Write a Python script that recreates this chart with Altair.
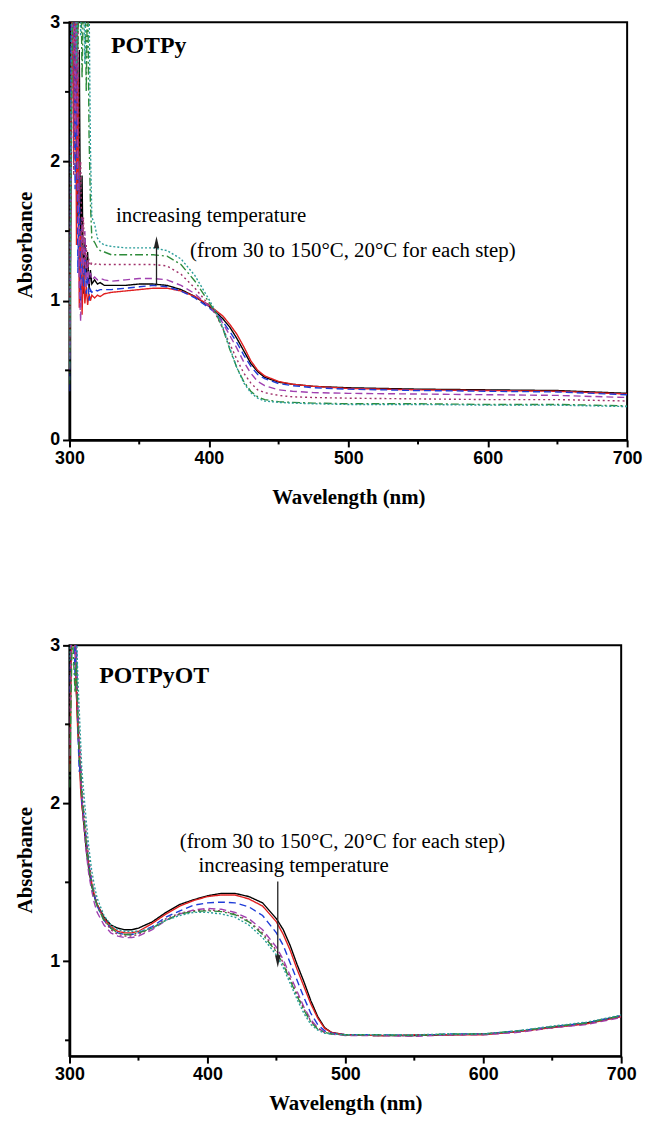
import altair as alt
import pandas as pd

# ---------------- data: top panel (POTPy) ----------------
W_TOP = [300, 301, 302, 303, 304, 305, 306, 307, 308, 309, 310, 311, 312, 313, 314, 315, 316,
         318, 320, 322, 325, 330, 340, 350, 360, 370, 380, 390, 400, 405, 410, 415, 420, 425,
         430, 435, 440, 450, 460, 475, 500, 550, 600, 650, 700]

TOP_30 = [0.45, 1.8, 3.5, 3.6, 2.4, 3.3, 1.6, 2.8, 1.3, 1.9, 1.05, 1.45, 1.15, 1.35, 1.08, 1.22, 1.12,
          1.15, 1.12, 1.13, 1.11, 1.11, 1.11, 1.12, 1.12, 1.11, 1.08, 1.03, 0.96, 0.92, 0.87, 0.81, 0.73, 0.64,
          0.55, 0.49, 0.45, 0.415, 0.40, 0.385, 0.375, 0.365, 0.36, 0.355, 0.335]
TOP_50 = [0.6, 2.2, 3.4, 2.0, 3.5, 1.4, 2.6, 0.95, 1.5, 0.9, 1.25, 0.98, 1.1, 0.97, 1.05, 1.0, 1.04,
          1.02, 1.04, 1.03, 1.05, 1.06, 1.07, 1.08, 1.09, 1.09, 1.07, 1.03, 0.97, 0.93, 0.89, 0.83, 0.76, 0.67,
          0.57, 0.50, 0.46, 0.42, 0.40, 0.385, 0.37, 0.36, 0.355, 0.35, 0.33]
TOP_70 = [0.35, 2.8, 3.6, 3.2, 1.8, 2.9, 1.2, 1.9, 1.0, 1.3, 1.1, 1.4, 1.05, 1.18, 1.0, 1.08, 1.06,
          1.08, 1.07, 1.08, 1.08, 1.08, 1.09, 1.10, 1.11, 1.10, 1.07, 1.02, 0.95, 0.91, 0.85, 0.78, 0.70, 0.61,
          0.53, 0.47, 0.44, 0.405, 0.39, 0.375, 0.365, 0.355, 0.35, 0.345, 0.325]
TOP_90 = [0.5, 1.6, 3.3, 3.5, 2.2, 3.4, 1.9, 1.1, 0.85, 1.6, 1.2, 1.5, 1.1, 1.3, 1.12, 1.2, 1.15,
          1.17, 1.15, 1.16, 1.15, 1.14, 1.15, 1.16, 1.16, 1.15, 1.11, 1.05, 0.96, 0.91, 0.84, 0.75, 0.66, 0.56,
          0.48, 0.42, 0.39, 0.36, 0.35, 0.34, 0.335, 0.33, 0.325, 0.32, 0.305]
TOP_110 = [0.7, 2.5, 3.4, 1.9, 3.6, 2.3, 3.2, 1.7, 2.0, 1.3, 1.6, 1.25, 1.4, 1.22, 1.3, 1.25, 1.27,
           1.26, 1.27, 1.26, 1.26, 1.26, 1.26, 1.26, 1.26, 1.25, 1.19, 1.09, 0.97, 0.90, 0.80, 0.69, 0.58, 0.48,
           0.41, 0.36, 0.34, 0.32, 0.31, 0.305, 0.30, 0.295, 0.29, 0.29, 0.28]
TOP_130 = [0.4, 1.9, 2.9, 3.5, 3.3, 3.6, 2.8, 3.4, 3.5, 2.6, 3.2, 3.4, 2.5, 3.3, 2.2, 1.7, 1.45,
           1.42, 1.38, 1.36, 1.35, 1.33, 1.33, 1.33, 1.33, 1.32, 1.26, 1.14, 0.99, 0.91, 0.80, 0.65, 0.52, 0.42,
           0.35, 0.31, 0.29, 0.275, 0.27, 0.265, 0.26, 0.26, 0.255, 0.255, 0.245]
TOP_150 = [0.55, 2.4, 3.6, 3.1, 3.5, 2.7, 3.4, 3.5, 2.9, 3.6, 3.3, 2.7, 3.5, 3.4, 3.2, 2.1, 1.6,
           1.55, 1.45, 1.42, 1.40, 1.39, 1.38, 1.38, 1.38, 1.36, 1.30, 1.18, 1.01, 0.92, 0.81, 0.66, 0.52, 0.41,
           0.34, 0.30, 0.28, 0.27, 0.265, 0.26, 0.255, 0.255, 0.25, 0.25, 0.24]

# ---------------- data: bottom panel (POTPyOT) ----------------
W_BOT = [300, 302, 304, 305, 306, 307, 308, 309, 310, 312, 314, 316, 318, 320, 325, 330, 335, 340,
         345, 350, 360, 370, 380, 390, 400, 410, 420, 430, 440, 450, 455, 460, 465, 470, 475, 480,
         485, 490, 500, 525, 550, 575, 600, 625, 650, 675, 700]

BOT_30 = [2.5, 3.4, 3.1, 2.7, 2.5, 2.3, 2.15, 2.0, 1.9, 1.72, 1.58, 1.48, 1.41, 1.36, 1.28, 1.23, 1.21, 1.20,
          1.20, 1.21, 1.25, 1.31, 1.36, 1.39, 1.415, 1.43, 1.43, 1.41, 1.37, 1.27, 1.20, 1.10, 0.98, 0.87, 0.75, 0.65,
          0.58, 0.55, 0.535, 0.53, 0.53, 0.535, 0.54, 0.555, 0.585, 0.61, 0.655]
BOT_50 = [2.2, 3.3, 3.0, 2.7, 2.45, 2.35, 2.1, 1.98, 1.92, 1.75, 1.6, 1.5, 1.42, 1.36, 1.27, 1.22, 1.19, 1.18,
          1.18, 1.19, 1.24, 1.30, 1.35, 1.385, 1.41, 1.42, 1.42, 1.395, 1.35, 1.25, 1.17, 1.07, 0.95, 0.84, 0.73, 0.64,
          0.575, 0.55, 0.535, 0.53, 0.535, 0.535, 0.535, 0.555, 0.58, 0.605, 0.65]
BOT_70 = [2.7, 3.5, 2.8, 3.1, 2.5, 2.2, 2.25, 2.0, 1.95, 1.78, 1.62, 1.5, 1.42, 1.35, 1.26, 1.21, 1.18, 1.17,
          1.17, 1.18, 1.22, 1.28, 1.32, 1.355, 1.37, 1.375, 1.37, 1.345, 1.29, 1.18, 1.10, 0.99, 0.88, 0.77, 0.67, 0.60,
          0.56, 0.545, 0.535, 0.535, 0.53, 0.54, 0.54, 0.56, 0.585, 0.61, 0.655]
BOT_90 = [2.3, 3.6, 3.0, 2.8, 2.6, 2.4, 2.2, 2.05, 1.9, 1.7, 1.55, 1.45, 1.37, 1.31, 1.23, 1.18, 1.16, 1.15,
          1.15, 1.16, 1.20, 1.26, 1.30, 1.325, 1.335, 1.33, 1.31, 1.27, 1.20, 1.09, 1.01, 0.91, 0.81, 0.71, 0.63, 0.58,
          0.55, 0.54, 0.53, 0.53, 0.525, 0.535, 0.535, 0.55, 0.58, 0.60, 0.645]
BOT_110 = [2.6, 3.5, 3.2, 2.9, 2.6, 2.45, 2.3, 2.1, 2.0, 1.82, 1.65, 1.52, 1.43, 1.36, 1.26, 1.20, 1.17, 1.16,
           1.16, 1.17, 1.21, 1.27, 1.305, 1.32, 1.325, 1.32, 1.30, 1.255, 1.18, 1.07, 0.99, 0.89, 0.79, 0.70, 0.62, 0.575,
           0.55, 0.54, 0.535, 0.53, 0.53, 0.535, 0.54, 0.555, 0.58, 0.605, 0.65]
BOT_130 = [2.1, 3.1, 2.7, 2.9, 2.55, 2.3, 2.2, 2.05, 1.95, 1.76, 1.6, 1.49, 1.41, 1.35, 1.26, 1.21, 1.18, 1.17,
           1.17, 1.18, 1.21, 1.26, 1.30, 1.315, 1.32, 1.315, 1.295, 1.25, 1.17, 1.06, 0.98, 0.88, 0.78, 0.69, 0.615, 0.57,
           0.55, 0.54, 0.535, 0.535, 0.53, 0.54, 0.54, 0.56, 0.585, 0.61, 0.655]
BOT_150 = [2.9, 3.6, 3.3, 3.1, 2.8, 2.6, 2.4, 2.2, 2.1, 1.9, 1.72, 1.58, 1.48, 1.40, 1.29, 1.23, 1.20, 1.19,
           1.19, 1.19, 1.21, 1.26, 1.29, 1.31, 1.31, 1.30, 1.28, 1.23, 1.15, 1.04, 0.96, 0.86, 0.76, 0.67, 0.60, 0.565,
           0.545, 0.54, 0.535, 0.535, 0.535, 0.54, 0.54, 0.56, 0.59, 0.615, 0.66]

SERIES = ["30 °C", "50 °C", "70 °C", "90 °C", "110 °C", "130 °C", "150 °C"]
TOP_COLORS = ["#000000", "#e02020", "#1e3cd8", "#a040b0", "#a0306a", "#2e8b3a", "#2a9d9a"]
TOP_DASH = [[1, 0], [1, 0], [7, 4], [7, 4], [2, 3], [8, 3, 2, 3], [2, 2]]
BOT_COLORS = ["#000000", "#e02020", "#33cc33", "#1e3cd8", "#c030c0", "#e0a000", "#1f7a3f"]
BOT_DASH = [[1, 0], [8, 4], [2, 3], [8, 3, 2, 3], [8, 3, 2, 3, 2, 3], [4, 3], [8, 3, 2, 3]]

X_MAJOR = [300, 400, 500, 600, 700]
X_MINOR = [350, 450, 550, 650]
Y_MAJOR_TOP = [0, 1, 2, 3]
Y_MINOR_TOP = [0.5, 1.5, 2.5]
Y_MAJOR_BOT = [1, 2, 3]
Y_MINOR_BOT = [0.5, 1.5, 2.5]

TEXT_INC = "increasing temperature"
TEXT_RANGE = "(from 30 to 150°C, 20°C for each step)"


def long_frame(wl, curves):
    rows = []
    for name, vals in zip(SERIES, curves):
        for w, v in zip(wl, vals):
            rows.append({"wl": w, "abs": v, "series": name})
    return pd.DataFrame(rows)


def panel(df, ydom, ymajor, yminor, colors, dashes, w, h, label, label_xy,
          inc_xy, range_xy, arrow, title_y, xpad):
    x_axis = alt.Axis(values=X_MAJOR, format="d", title="Wavelength (nm)", titlePadding=xpad,
                      labelFlush=False)
    y_axis = alt.Axis(values=ymajor, format="d", title="Absorbance", titleY=title_y,
                      labelFlush=False)
    xs = alt.Scale(domain=[300, 700], nice=False)
    ys = alt.Scale(domain=ydom, nice=False, zero=False)

    lines = alt.Chart(df).mark_line(clip=True, strokeWidth=1.4).encode(
        x=alt.X("wl:Q", scale=xs, axis=x_axis),
        y=alt.Y("abs:Q", scale=ys, axis=y_axis),
        color=alt.Color("series:N", scale=alt.Scale(domain=SERIES, range=colors), legend=None),
        strokeDash=alt.StrokeDash("series:N", scale=alt.Scale(domain=SERIES, range=dashes), legend=None),
        detail="series:N",
    )

    # minor ticks (outward, shorter than the major ticks)
    mx = pd.DataFrame({"wl": X_MINOR})
    minor_x = alt.Chart(mx).mark_rule(color="black", strokeWidth=2).encode(
        x=alt.X("wl:Q", scale=xs), y=alt.value(h), y2=alt.value(h + 4.5)
    )
    my = pd.DataFrame({"abs": yminor})
    minor_y = alt.Chart(my).mark_rule(color="black", strokeWidth=2).encode(
        y=alt.Y("abs:Q", scale=ys), x=alt.value(0), x2=alt.value(-4.5)
    )

    lab = pd.DataFrame({"wl": [label_xy[0]], "abs": [label_xy[1]], "t": [label]})
    label_mark = alt.Chart(lab).mark_text(
        align="left", baseline="middle", font="Liberation Serif", fontWeight="bold",
        fontSize=24, color="black"
    ).encode(x=alt.X("wl:Q", scale=xs), y=alt.Y("abs:Q", scale=ys), text="t:N")

    ann = pd.DataFrame({
        "wl": [inc_xy[0], range_xy[0]],
        "abs": [inc_xy[1], range_xy[1]],
        "t": [TEXT_INC, TEXT_RANGE],
    })
    ann_mark = alt.Chart(ann).mark_text(
        align="left", baseline="middle", font="Liberation Serif", fontSize=21, color="black"
    ).encode(x=alt.X("wl:Q", scale=xs), y=alt.Y("abs:Q", scale=ys), text="t:N")

    arr = pd.DataFrame({"wl": [arrow[0]], "abs": [arrow[1]], "abs2": [arrow[2]]})
    shaft = alt.Chart(arr).mark_rule(color="#222222", strokeWidth=1.3).encode(
        x=alt.X("wl:Q", scale=xs), y=alt.Y("abs:Q", scale=ys), y2="abs2:Q"
    )
    head_shape = "M0,-1L0.45,1L-0.45,1Z" if arrow[2] > arrow[1] else "M0,1L0.45,-1L-0.45,-1Z"
    head = alt.Chart(arr).mark_point(
        shape=head_shape, filled=True, color="#222222", size=150, opacity=1, strokeWidth=0
    ).encode(x=alt.X("wl:Q", scale=xs), y=alt.Y("abs2:Q", scale=ys))

    return alt.layer(lines, minor_x, minor_y, label_mark, ann_mark, shaft, head).properties(
        width=w, height=h
    )


top_df = long_frame(W_TOP, [TOP_30, TOP_50, TOP_70, TOP_90, TOP_110, TOP_130, TOP_150])
bot_df = long_frame(W_BOT, [BOT_30, BOT_50, BOT_70, BOT_90, BOT_110, BOT_130, BOT_150])

top = panel(top_df, [0, 3], Y_MAJOR_TOP, Y_MINOR_TOP, TOP_COLORS, TOP_DASH, 562, 421, "POTPy",
            (329.8, 2.83), (333.3, 1.607), (386.5, 1.357), (362.4, 1.11, 1.42), 224, 19)
bottom = panel(bot_df, [0.4, 3], Y_MAJOR_BOT, Y_MINOR_BOT, BOT_COLORS, BOT_DASH, 556, 414, "POTPyOT",
               (321.6, 2.806), (393.5, 1.60), (379.9, 1.756), (451.0, 1.506, 1.0), 216, 9)

chart = alt.vconcat(top, bottom, spacing=128).properties(
    padding={"top": 0, "left": 5, "right": 0, "bottom": 0}
).configure_axis(
    grid=False,
    domainColor="black", domainWidth=2.5,
    tickColor="black", tickWidth=2, tickSize=7,
    labelFont="Liberation Sans", labelFontWeight="bold", labelFontSize=18, labelColor="black",
    labelPadding=3,
    titleFont="Liberation Serif", titleFontWeight="bold", titleFontSize=21, titleColor="black",
    titlePadding=14,
).configure_view(stroke="black", strokeWidth=2)

chart.save("out.html", embed_options={"renderer": "svg", "actions": False})
